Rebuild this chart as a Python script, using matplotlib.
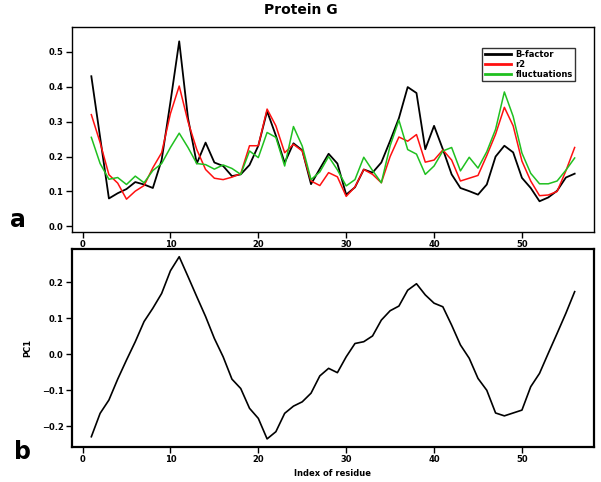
import numpy as np
import matplotlib
matplotlib.use("Agg")
import matplotlib.pyplot as plt

# residue index (shared by both panels)
residue = np.arange(1, 57)

bfactor = [0.43, 0.255, 0.08, 0.095, 0.107, 0.127, 0.12, 0.11, 0.19, 0.356,
           0.53, 0.31, 0.18, 0.24, 0.183, 0.173, 0.144, 0.149, 0.176, 0.231,
           0.33, 0.26, 0.182, 0.238, 0.218, 0.121, 0.165, 0.208, 0.18, 0.091,
           0.112, 0.163, 0.154, 0.183, 0.245, 0.31, 0.399, 0.382, 0.221, 0.288,
           0.221, 0.149, 0.11, 0.101, 0.091, 0.12, 0.2, 0.231, 0.212, 0.139,
           0.11, 0.072, 0.083, 0.102, 0.14, 0.151]
r2 = [0.32, 0.24, 0.148, 0.124, 0.078, 0.101, 0.117, 0.168, 0.211, 0.323,
      0.402, 0.30, 0.22, 0.163, 0.138, 0.134, 0.141, 0.151, 0.231, 0.231,
      0.336, 0.288, 0.211, 0.235, 0.216, 0.13, 0.117, 0.154, 0.142, 0.086,
      0.113, 0.163, 0.149, 0.125, 0.2, 0.256, 0.244, 0.263, 0.184, 0.19,
      0.219, 0.19, 0.13, 0.138, 0.146, 0.203, 0.264, 0.341, 0.288, 0.187,
      0.13, 0.088, 0.09, 0.1, 0.159, 0.226]
fluct = [0.255, 0.18, 0.135, 0.14, 0.12, 0.144, 0.125, 0.16, 0.18, 0.226,
         0.267, 0.226, 0.18, 0.177, 0.164, 0.176, 0.166, 0.149, 0.216, 0.197,
         0.269, 0.255, 0.173, 0.286, 0.23, 0.134, 0.156, 0.2, 0.162, 0.116,
         0.134, 0.198, 0.16, 0.125, 0.231, 0.304, 0.22, 0.207, 0.149, 0.173,
         0.216, 0.226, 0.159, 0.198, 0.167, 0.214, 0.278, 0.385, 0.315, 0.21,
         0.152, 0.122, 0.122, 0.13, 0.161, 0.196]

pc1 = [-0.229, -0.164, -0.127, -0.069, -0.016, 0.035, 0.091, 0.128, 0.169, 0.232,
       0.271, 0.216, 0.16, 0.105, 0.044, -0.007, -0.069, -0.095, -0.15, -0.178,
       -0.235, -0.215, -0.164, -0.144, -0.132, -0.108, -0.06, -0.039, -0.051, -0.007,
       0.03, 0.035, 0.051, 0.095, 0.121, 0.134, 0.178, 0.196, 0.165, 0.142,
       0.132, 0.081, 0.026, -0.011, -0.067, -0.1, -0.163, -0.171, -0.163, -0.155,
       -0.09, -0.053, 0.003, 0.058, 0.114, 0.174]

tick_font = dict(fontsize=6, fontweight='bold')

fig = plt.figure(figsize=(6.01, 4.82), dpi=100)

# ---- panel a ----
ax1 = fig.add_axes([72/601, 1-232/482, 522/601, 205/482])
ax1.plot(residue, bfactor, color='black', lw=1.3, label='B-factor')
ax1.plot(residue, r2, color='#ff1010', lw=1.1, label='r2')
ax1.plot(residue, fluct, color='#20c020', lw=1.1, label='fluctuations')
ax1.set_xlim(-1.2, 58.2)
ax1.set_ylim(-0.016, 0.571)
ax1.set_xticks(range(0, 60, 10))
ax1.set_yticks([0.0, 0.1, 0.2, 0.3, 0.4, 0.5])
ax1.set_yticklabels(['0.0', '0.1', '0.2', '0.3', '0.4', '0.5'], **tick_font)
ax1.set_xticklabels([str(v) for v in range(0, 60, 10)], **tick_font)
ax1.tick_params(direction='out', length=4, width=1, pad=2)
for s in ax1.spines.values():
    s.set_linewidth(1.0)
leg = ax1.legend(loc='upper right', bbox_to_anchor=(0.972, 0.92),
                 prop=dict(size=6, weight='bold'), frameon=True, fancybox=False,
                 edgecolor='black', handlelength=3.2, borderpad=0.3,
                 labelspacing=0.1, handletextpad=0.5)
leg.get_frame().set_linewidth(1.0)
for line in leg.get_lines():
    line.set_linewidth(2.0)

# ---- panel b ----
ax2 = fig.add_axes([72/601, 1-447/482, 522/601, 198/482])
ax2.plot(residue, pc1, color='black', lw=1.2)
ax2.set_xlim(-1.2, 58.2)
ax2.set_ylim(-0.2575, 0.2925)
ax2.set_xticks(range(0, 60, 10))
ax2.set_xticklabels([str(v) for v in range(0, 60, 10)], **tick_font)
ax2.set_yticks([-0.2, -0.1, 0.0, 0.1, 0.2])
ax2.set_yticklabels(['\u22120.2', '\u22120.1', '0.0', '0.1', '0.2'], **tick_font)
ax2.tick_params(direction='out', length=4, width=1, pad=2)
for s in ax2.spines.values():
    s.set_linewidth(1.6)
ax2.set_ylabel('PC1', fontsize=6, fontweight='bold', labelpad=7)
ax2.set_xlabel('Index of residue', fontsize=6, fontweight='bold', labelpad=3)

fig.text(0.5, 1-10/482, 'Protein G', ha='center', va='center',
         fontsize=10, fontweight='bold')
fig.text(18/601, 1-220/482, 'a', ha='center', va='center', fontsize=17, fontweight='bold')
fig.text(23/601, 1-452/482, 'b', ha='center', va='center', fontsize=17, fontweight='bold')

fig.savefig('out.png', dpi=100)
